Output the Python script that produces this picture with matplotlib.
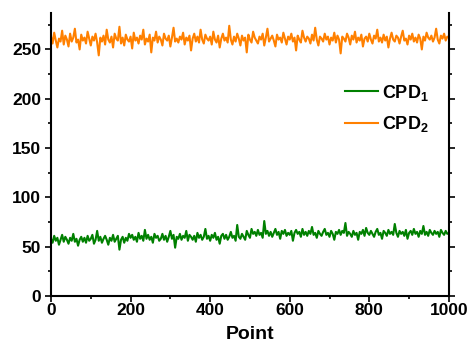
import numpy as np
import matplotlib.pyplot as plt
from matplotlib.ticker import MultipleLocator

plt.rcParams['font.family'] = 'Liberation Sans'
plt.rcParams['font.weight'] = 'bold'
plt.rcParams['mathtext.fontset'] = 'custom'
plt.rcParams['mathtext.rm'] = 'Liberation Sans:bold'
plt.rcParams['mathtext.it'] = 'Liberation Sans:bold'
plt.rcParams['mathtext.bf'] = 'Liberation Sans:bold'

# values, one every 4 points
point = np.arange(0, 1001, 4)

cpd2 = [263,256,267,259,252,261,258,269,255,264,
        260,253,266,258,262,271,257,260,250,265,
        259,262,256,268,261,254,263,259,266,257,
        244,262,258,264,255,270,260,257,263,252,
        266,261,259,273,256,262,254,265,260,258,
        263,251,267,259,262,256,264,260,270,255,
        261,258,265,247,262,259,268,257,263,260,
        254,266,261,259,264,253,262,272,258,261,
        257,263,260,267,255,262,259,264,249,261,
        266,258,263,257,270,260,256,265,261,259,
        263,255,268,260,257,264,252,261,266,259,
        262,257,274,260,255,263,258,266,261,254,
        264,259,262,247,265,260,257,268,262,259,
        256,263,260,266,254,262,271,258,261,264,
        259,253,265,260,262,257,267,261,255,263,
        260,266,258,262,249,264,260,257,269,262,
        258,263,261,256,265,259,272,260,254,263,
        261,258,266,260,263,255,262,259,267,257,
        264,260,246,263,261,258,266,262,255,264,
        260,268,257,262,259,265,253,261,263,258,
        266,260,256,264,261,270,258,262,257,265,
        259,263,252,261,267,260,258,264,262,256,
        263,269,259,261,255,264,260,266,258,262,
        257,265,261,250,263,259,267,262,260,264,
        258,262,271,260,256,264,261,266,259,263,
        262]

cpd1 = [58,54,61,56,59,52,57,62,55,60,
        57,53,59,56,63,55,58,51,57,60,
        55,59,54,61,56,58,62,53,57,66,
        56,60,54,58,61,57,52,59,56,62,
        55,58,61,47,57,60,54,59,56,63,
        59,62,57,60,55,64,58,61,56,67,
        58,62,57,60,54,63,59,61,56,58,
        63,57,61,55,60,66,58,62,49,60,
        58,63,57,61,59,66,56,62,60,57,
        61,55,64,59,62,57,60,68,58,61,
        56,62,59,64,57,60,53,61,63,58,
        62,57,60,65,59,61,56,72,60,58,
        63,60,57,66,62,59,68,63,65,61,
        67,62,64,59,76,63,66,61,65,60,
        64,68,62,65,58,66,63,67,61,64,
        62,66,56,64,67,63,65,60,68,62,
        65,61,66,63,70,62,64,59,66,63,
        61,65,68,62,64,60,66,63,57,65,
        63,67,62,66,64,74,61,65,63,60,
        66,62,64,57,65,63,67,61,69,64,
        62,66,63,60,65,68,62,64,58,66,
        64,61,67,63,65,62,73,64,60,66,
        63,65,61,67,58,64,66,62,68,63,
        65,60,66,63,71,62,65,61,67,64,
        62,66,63,65,60,67,64,62,66,63,
        64]

fig = plt.figure(figsize=(4.74, 3.5), dpi=100)
ax = fig.add_axes([0.1076, 0.1543, 0.8394, 0.8087])

ax.plot(point, cpd1, color='#008000', lw=1.5, label='CPD$_1$')
ax.plot(point, cpd2, color='#ff8000', lw=1.5, label='CPD$_2$')

ax.set_xlim(0, 1000)
ax.set_ylim(0, 287)
ax.xaxis.set_major_locator(MultipleLocator(200))
ax.xaxis.set_minor_locator(MultipleLocator(100))
ax.yaxis.set_major_locator(MultipleLocator(50))
ax.yaxis.set_minor_locator(MultipleLocator(25))

ax.spines['top'].set_visible(False)
for s in ['left', 'right', 'bottom']:
    ax.spines[s].set_linewidth(1.5)
ax.tick_params(which='both', direction='out', width=1.2, labelsize=12.5,
               right=True, top=False)
ax.tick_params(axis='x', pad=1)
ax.tick_params(axis='y', pad=3)
ax.tick_params(which='major', length=4)
ax.tick_params(which='minor', length=2.5)
ax.set_xlabel('Point', fontsize=14, fontweight='bold', labelpad=6)

ax.legend(frameon=False, fontsize=13, loc='center left',
          bbox_to_anchor=(0.739, 0.662), borderaxespad=0, borderpad=0,
          handlelength=1.8, handletextpad=0.22, labelspacing=0.65)

fig.savefig('out.png', dpi=100)
